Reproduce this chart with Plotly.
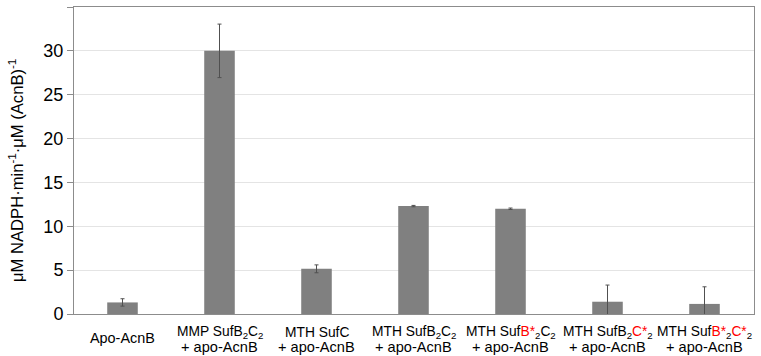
import plotly.graph_objects as go

categories = ["Apo-AcnB", "MMP SufB2C2", "MTH SufC", "MTH SufB2C2",
              "MTH SufB*2C2", "MTH SufB2C*2", "MTH SufB*2C*2"]
label_line1 = [
    "",
    "MMP SufB<sub>2</sub>C<sub>2</sub>",
    "MTH SufC",
    "MTH SufB<sub>2</sub>C<sub>2</sub>",
    "MTH Suf<span style='color:#ff0000'>B*</span><sub>2</sub>C<sub>2</sub>",
    "MTH SufB<sub>2</sub><span style='color:#ff0000'>C*</span><sub>2</sub>",
    "MTH Suf<span style='color:#ff0000'>B*</span><sub>2</sub><span style='color:#ff0000'>C*</span><sub>2</sub>",
]
label_line2 = ["", "+ apo-AcnB", "+ apo-AcnB", "+ apo-AcnB",
               "+ apo-AcnB", "+ apo-AcnB", "+ apo-AcnB"]
single_label = ["Apo-AcnB", "", "", "", "", "", ""]
values = [1.32, 30.0, 5.15, 12.3, 12.0, 1.4, 1.15]
errors = [0.42, 3.05, 0.45, 0.08, 0.08, 1.9, 1.95]
y_ticks = [0, 5, 10, 15, 20, 25, 30, 35]
y_title = "μM NADPH·min<sup>-1</sup>·μM (AcnB)<sup>-1</sup>"

FONT = "Liberation Sans, Arial, sans-serif"

fig = go.Figure()
fig.add_trace(go.Bar(
    x=categories, y=values,
    marker=dict(color="#808080", line=dict(width=0)),
    error_y=dict(type="data", array=errors, visible=True,
                 color="#505050", thickness=1, width=2),
    width=0.315,
))

annotations = []
for c, l1, l2, s in zip(categories, label_line1, label_line2, single_label):
    if s:
        annotations.append(dict(x=c, y=0, xref="x", yref="paper", text=s,
                                showarrow=False, yanchor="middle", yshift=-24,
                                font=dict(family=FONT, size=14.4, color="#000")))
    else:
        annotations.append(dict(x=c, y=0, xref="x", yref="paper", text=l1,
                                showarrow=False, yanchor="middle", yshift=-18.5,
                                font=dict(family=FONT, size=13.8, color="#000")))
        annotations.append(dict(x=c, y=0, xref="x", yref="paper", text=l2,
                                showarrow=False, yanchor="middle", yshift=-33,
                                font=dict(family=FONT, size=14.6, color="#000")))

annotations.append(dict(x=0, y=0.466, xref="paper", yref="paper", text=y_title,
                        showarrow=False, textangle=-90, xanchor="center",
                        yanchor="middle", xshift=-58,
                        font=dict(family=FONT, size=16.6, color="#000")))

fig.update_layout(
    width=761, height=356,
    margin=dict(l=74, r=7, t=7, b=42, autoexpand=False),
    paper_bgcolor="white", plot_bgcolor="white",
    showlegend=False,
    font=dict(family=FONT, color="#000"),
    annotations=annotations,
    xaxis=dict(showticklabels=False, ticks="", showline=True,
               linecolor="#8c8c8c", linewidth=1, mirror=True,
               showgrid=False, zeroline=False),
    yaxis=dict(range=[0, 35], tickvals=y_ticks, ticks="outside", ticklen=6,
               tickcolor="#8c8c8c", showline=True, linecolor="#8c8c8c",
               linewidth=1, mirror=True, showgrid=True, gridcolor="#e4e4e4",
               zeroline=False, tickfont=dict(size=18, family=FONT),
               automargin=False),
)

fig.write_html("out.html")
